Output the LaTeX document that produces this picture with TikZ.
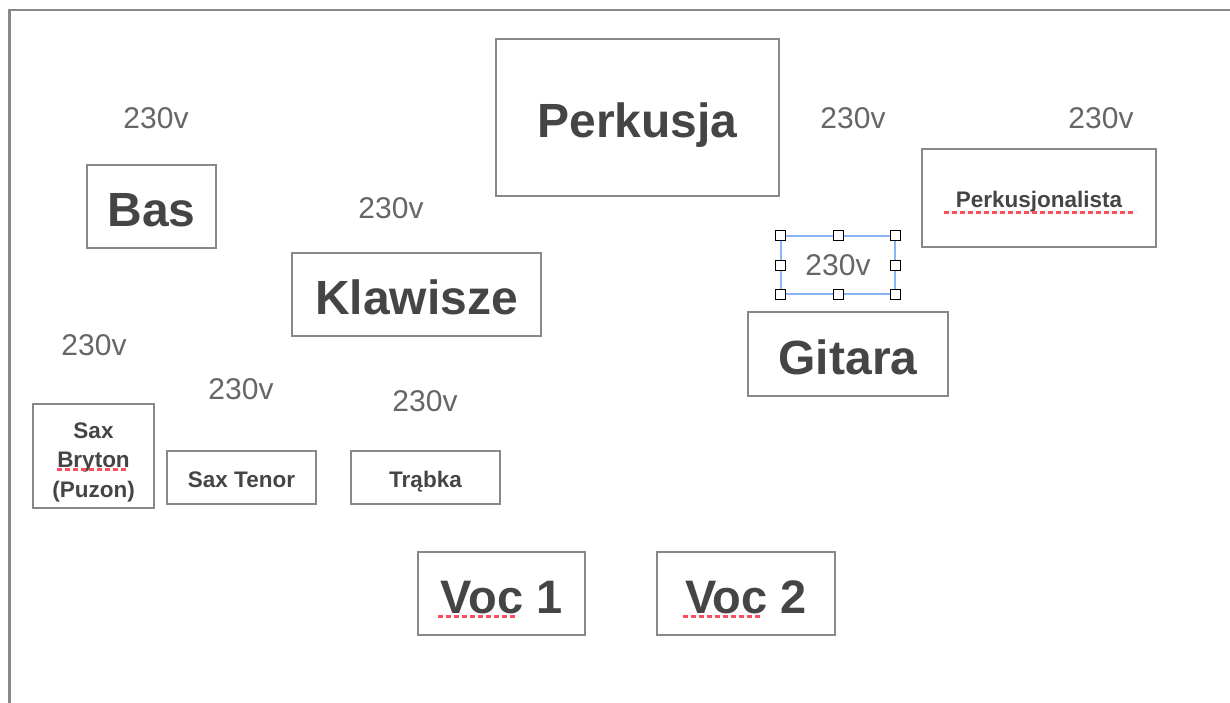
\documentclass[tikz,border=0pt]{standalone}
\usepackage{fontspec}
\setmainfont{Liberation Sans}
\definecolor{framegray}{HTML}{86898C}
\definecolor{ink}{HTML}{454545}
\definecolor{voltgray}{HTML}{666666}
\definecolor{selblue}{HTML}{8AB4F8}
\definecolor{spellred}{HTML}{FF4D5E}
\tikzset{box/.style={draw=framegray,line width=2.5pt,inner sep=0pt,text=ink},
         big node/.style={box,font=\fontsize{48}{48}\bfseries\selectfont,text height=40pt,text depth=0pt},
         small node/.style={box,font=\fontsize{22.5}{29}\bfseries\selectfont,text height=19pt,text depth=0pt},
         volt/.style={text=voltgray,font=\fontsize{30}{30}\selectfont,inner sep=0pt},
         spell/.style={draw=spellred,line width=3pt,dash pattern=on 5pt off 3pt},
         handle/.style={draw=black,fill=white,line width=0.8pt,minimum size=10pt,inner sep=0pt},
            }

\begin{document}
\begin{tikzpicture}[x=1pt,y=-1pt]
    \useasboundingbox (0,0) rectangle (1230,702);
    \draw[framegray,line width=2.5pt] (1232,10) -- (9.5,10) -- (9.5,704);

    \node[big node,minimum width=283pt,minimum height=157pt] (perkusja) at (637.5,117.5) {Perkusja};
    \node[big node,minimum width=129pt,minimum height=83pt] (bas) at (151.5,206.5) {Bas};
    \node[big node,minimum width=249pt,minimum height=83pt] (klawisze) at (416.5,294.5) {Klawisze};
    \node[big node,minimum width=200pt,minimum height=84pt] (gitara) at (848,354) {Gitara};
    \node[small node,minimum width=234pt,minimum height=98pt] (perkusjonalista) at (1039,198) {Perkusjonalista};
    \node[box,minimum width=121pt,minimum height=104pt] (bryton) at (93.5,456) {};
    \node[text=ink,align=center,inner sep=0pt,font=\fontsize{22.5}{29.5}\bfseries\selectfont] (bryton text)
        at ([yshift=-6pt]bryton.center) {Sax\\Bryton\\(Puzon)};
    \node[small node,minimum width=149pt,minimum height=53pt] (tenor) at (241.5,477.5) {Sax Tenor};
    \node[small node,minimum width=149pt,minimum height=53pt] (trabka) at (425.5,477.5) {Trąbka};
    \node[big node,font=\fontsize{47}{47}\bfseries\selectfont,minimum width=167pt,minimum height=83pt] (voc1) at (501.5,593.5) {Voc 1};
    \node[big node,font=\fontsize{47}{47}\bfseries\selectfont,minimum width=178pt,minimum height=83pt] (voc2) at (746,593.5) {Voc 2};

    % 230v
    \node[volt] (v1) at (156,118) {230v};
    \node[volt] (v2) at (391,208) {230v};
    \node[volt] (v3) at (853,118) {230v};
    \node[volt] (v4) at (1101,118) {230v};
    \node[volt,draw=selblue,line width=1.2pt,minimum width=114pt,minimum height=58pt] (v5) at (838,265) {230v};
    \node[volt] (v6) at (94,345) {230v};
    \node[volt] (v7) at (241,389) {230v};
    \node[volt] (v8) at (425,401) {230v};

    \foreach \a [count=\i] in {north west,north,north east,east,south east,south,south west,west}
        \node[handle] (h\i) at (v5.\a) {};

    % spelling
    \draw[spell] (944,212) -- (1136,212);
    \draw[spell] (57,469) -- (126,469);
    \draw[spell] (438,616) -- (518,616);
    \draw[spell] (683,616) -- (763,616);
\end{tikzpicture}
\end{document}
